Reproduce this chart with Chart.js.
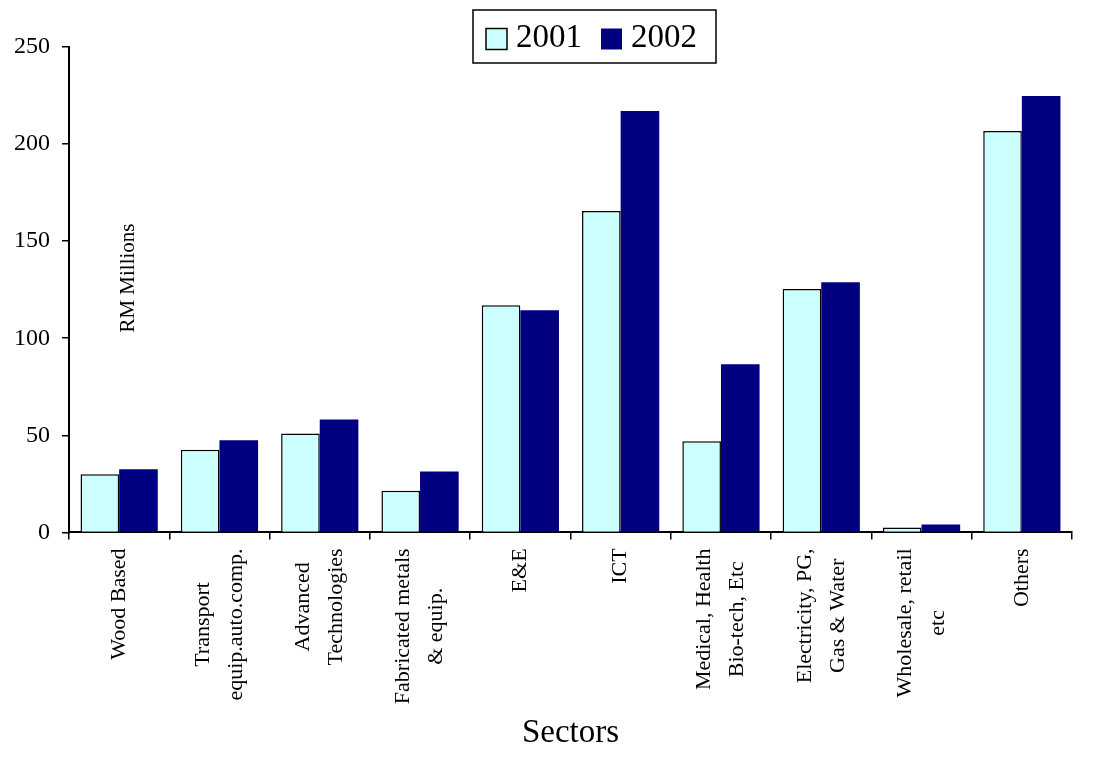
<!DOCTYPE html>
<html>
<head>
<meta charset="utf-8">
<script src="https://cdn.jsdelivr.net/npm/chart.js@4/dist/chart.umd.min.js"></script>
<style>
  html, body { margin: 0; padding: 0; background: #fff; }
  #wrap { width: 1097px; height: 759px; position: relative; }
</style>
</head>
<body>
<div id="wrap"><canvas id="sectorChart"></canvas></div>
<script>
const sectors = [
  'Wood Based',
  ['Transport', 'equip.auto.comp.'],
  ['Advanced', 'Technologies'],
  ['Fabricated metals', '& equip.'],
  'E&E',
  'ICT',
  ['Medical, Health', 'Bio-tech, Etc'],
  ['Electricity, PG,', 'Gas & Water'],
  ['Wholesale, retail', 'etc'],
  'Others'
];
const values2001 = [29.9, 42.6, 51, 21.5, 117, 165.5, 46.9, 125.3, 2.5, 206.8];
const values2002 = [32.5, 47.4, 58.2, 31.4, 114.4, 217, 86.6, 128.9, 4.1, 224.7];
const yTicks = [0, 50, 100, 150, 200, 250];

const serif = '"Liberation Serif", "Times New Roman", serif';

// category labels: vertical, lines centred on each other like the original
// plus the legend box and the "RM Millions" note inside the plot
const overlayPlugin = {
  id: 'overlay',
  afterDraw(chart) {
    const ctx = chart.ctx;
    const area = chart.chartArea;
    const xScale = chart.scales.x;
    const yScale = chart.scales.y;

    ctx.save();
    ctx.font = '22px ' + serif;
    ctx.fillStyle = '#000';
    ctx.textAlign = 'center';
    ctx.textBaseline = 'middle';
    const lineGap = 33;
    const top = xScale.top + 16;
    chart.data.labels.forEach((lbl, i) => {
      const lines = Array.isArray(lbl) ? lbl : [lbl];
      const w = Math.max(...lines.map(l => ctx.measureText(l).width));
      const px = xScale.getPixelForTick(i);
      lines.forEach((line, j) => {
        ctx.save();
        ctx.translate(px + (j - (lines.length - 1) / 2) * lineGap, top + w / 2);
        ctx.rotate(-Math.PI / 2);
        ctx.fillText(line, 0, 0);
        ctx.restore();
      });
    });
    ctx.restore();

    // RM Millions
    ctx.save();
    ctx.translate(area.left + 59, yScale.getPixelForValue(131));
    ctx.rotate(-Math.PI / 2);
    ctx.font = '21px ' + serif;
    ctx.fillStyle = '#000';
    ctx.textAlign = 'center';
    ctx.textBaseline = 'middle';
    ctx.fillText('RM Millions', 0, 0);
    ctx.restore();

    // legend
    const boxX = 473, boxY = 10, boxW = 243, boxH = 53;
    ctx.save();
    ctx.fillStyle = '#fff';
    ctx.fillRect(boxX, boxY, boxW, boxH);
    ctx.strokeStyle = '#000';
    ctx.lineWidth = 1.5;
    ctx.strokeRect(boxX, boxY, boxW, boxH);
    ctx.font = '33px ' + serif;
    ctx.textBaseline = 'middle';
    let x = boxX + 13;
    const cy = boxY + boxH / 2 + 2;
    chart.data.datasets.forEach(ds => {
      ctx.fillStyle = ds.backgroundColor;
      ctx.fillRect(x, cy - 10, 21, 21);
      if (ds.borderWidth) {
        ctx.strokeStyle = '#000';
        ctx.lineWidth = 1.5;
        ctx.strokeRect(x, cy - 10, 21, 21);
      }
      ctx.fillStyle = '#000';
      ctx.fillText(ds.label, x + 30, cy);
      x += 30 + ctx.measureText(ds.label).width + 19;
    });
    ctx.restore();
  }
};

const ctx = document.getElementById('sectorChart').getContext('2d');
new Chart(ctx, {
  type: 'bar',
  data: {
    labels: sectors,
    datasets: [{
      label: '2001',
      data: values2001,
      backgroundColor: '#CCFFFF',
      borderColor: '#000',
      borderWidth: 1.5,
      borderSkipped: 'bottom'
    }, {
      label: '2002',
      data: values2002,
      backgroundColor: '#000080',
      borderWidth: 0
    }]
  },
  options: {
    responsive: true,
    maintainAspectRatio: false,
    animation: false,
    layout: { padding: { top: 47, right: 25, left: 2, bottom: 6 } },
    datasets: {
      bar: { categoryPercentage: 0.77, barPercentage: 1.0 }
    },
    scales: {
      x: {
        grid: {
          display: true,
          drawOnChartArea: false,
          offset: true,
          color: '#000',
          lineWidth: 1.5,
          tickLength: 7
        },
        border: { display: true, color: '#000', width: 2 },
        ticks: { display: false },
        title: {
          display: true,
          text: 'Sectors',
          color: '#000',
          font: { family: serif, size: 33 },
          padding: { top: 174, bottom: 0 }
        }
      },
      y: {
        min: 0,
        max: 250,
        afterBuildTicks: axis => { axis.ticks = yTicks.map(v => ({ value: v })); },
        grid: {
          display: true,
          drawOnChartArea: false,
          color: '#000',
          lineWidth: 1.5,
          tickLength: 7
        },
        border: { display: true, color: '#000', width: 2 },
        ticks: {
          color: '#000',
          font: { family: serif, size: 24 },
          padding: 12
        }
      }
    },
    plugins: {
      legend: { display: false },
      tooltip: { enabled: false }
    }
  },
  plugins: [overlayPlugin]
});
</script>
</body>
</html>
